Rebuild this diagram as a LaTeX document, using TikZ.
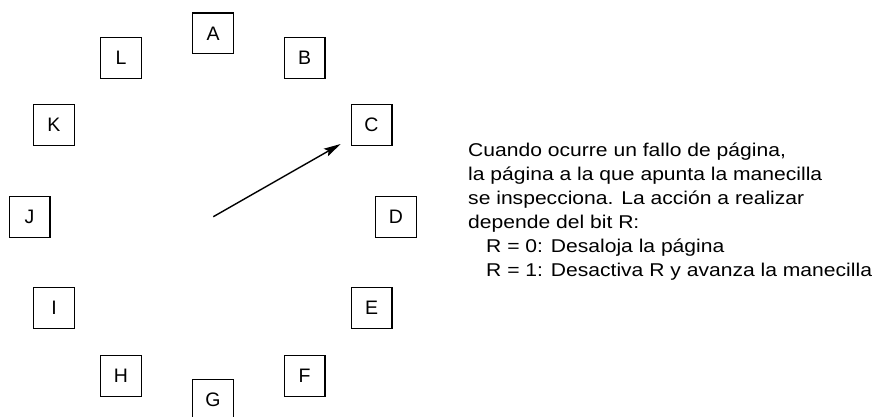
\documentclass[tikz,border=0pt]{standalone}
\usepackage{fontspec}
\setmainfont{Liberation Sans}
\newfontfamily\widesans[FakeStretch=1.14]{Liberation Sans}
\usetikzlibrary{arrows.meta}
\begin{document}
\begin{tikzpicture}[x=1pt,y=-1pt,
  page/.style={draw,line width=1.3pt,minimum width=40.7pt,minimum height=40.7pt,inner sep=0pt,
    font=\fontsize{19.5}{22}\selectfont},
  hand/.style={line width=1.4pt,-{Stealth[length=17pt,width=8.5pt,inset=3pt]}}]
\clip (0,0) rectangle (877,417);
\useasboundingbox (0,0) rectangle (877,417);
\node[page] (A) at (213,33.5) {A};
\node[page] (B) at (304.5,58) {B};
\node[page] (C) at (371.5,125) {C};
\node[page] (D) at (396,217) {D};
\node[page] (E) at (371.5,308) {E};
\node[page] (F) at (304.5,376) {F};
\node[page] (G) at (213,400) {G};
\node[page] (H) at (121,376) {H};
\node[page] (I) at (54,308) {I};
\node[page] (J) at (29.5,217) {J};
\node[page] (K) at (54,125) {K};
\node[page] (L) at (121,58) {L};
\coordinate (hub) at (213.3,216.7);
\coordinate (tip) at (340.7,144);
\draw[hand] (hub) -- (tip);
\node[anchor=base west,align=left,inner sep=0pt,font=\widesans\fontsize{18.5}{23.9}\selectfont] (txt) at (468,276)
 {Cuando ocurre un fallo de página,\\
  la página a la que apunta la manecilla\\
  se inspecciona. La acción a realizar\\
  depende del bit R:\\
  \hspace{18pt}R = 0: Desaloja la página\\
  \hspace{18pt}R = 1: Desactiva R y avanza la manecilla};
\end{tikzpicture}
\end{document}
